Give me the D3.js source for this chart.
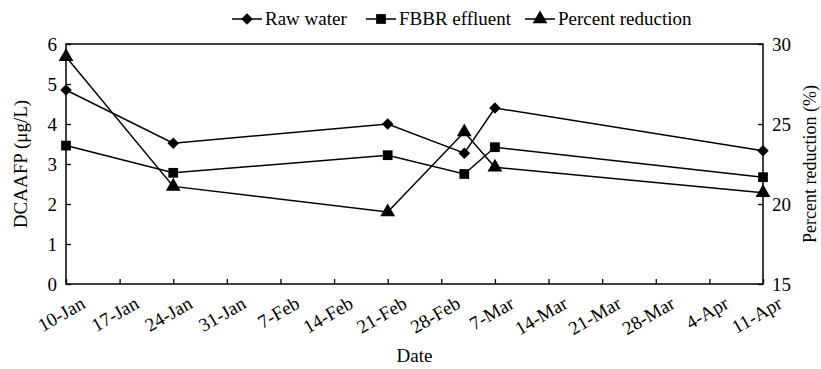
<!DOCTYPE html>
<html>
<head>
<meta charset="utf-8">
<script src="https://cdn.jsdelivr.net/npm/d3@7"></script>
<style>
  body { margin: 0; background: #fff; }
  svg text { font-family: "Liberation Serif", "Times New Roman", serif; fill: #000; }
</style>
</head>
<body>
<div id="chart"></div>
<script>
// sampling dates (2009, non-leap) and measured values
const sampleDates = ['2009-01-10', '2009-01-24', '2009-02-21', '2009-03-03', '2009-03-07', '2009-04-11'];
const rawWater = [4.85, 3.52, 4.0, 3.27, 4.4, 3.33];
const fbbrEffluent = [3.46, 2.78, 3.22, 2.75, 3.42, 2.67];
const percentReduction = [29.2, 21.1, 19.5, 24.5, 22.3, 20.7];

const leftTicks = [0, 1, 2, 3, 4, 5, 6];
const rightTicks = [15, 20, 25, 30];
const seriesNames = ['Raw water', 'FBBR effluent', 'Percent reduction'];

const width = 821, height = 369;
const m = { top: 44, right: 58, bottom: 85, left: 66 };
const pw = width - m.left - m.right;
const ph = height - m.top - m.bottom;

const parse = d3.utcParse('%Y-%m-%d');
const dates = sampleDates.map(parse);

const x = d3.scaleUtc()
    .domain([parse('2009-01-10'), parse('2009-04-11')])
    .range([0, pw]);
const y = d3.scaleLinear().domain([0, 6]).range([ph, 0]);
const y2 = d3.scaleLinear().domain([15, 30]).range([ph, 0]);

const svg = d3.select('#chart').append('svg')
    .attr('width', width)
    .attr('height', height);

const g = svg.append('g')
    .attr('transform', `translate(${m.left},${m.top})`);

// axes, ticks point inward
const xTicks = d3.utcDay.range(x.domain()[0], d3.utcDay.offset(x.domain()[1], 1), 7);
const xAxis = g.append('g')
    .attr('transform', `translate(0,${ph})`)
    .call(d3.axisBottom(x).tickValues(xTicks).tickSizeInner(-5).tickSizeOuter(0).tickFormat(d3.utcFormat('%-d-%b')));
xAxis.selectAll('text')
    .attr('text-anchor', 'end')
    .attr('dy', null)
    .attr('y', 0)
    .attr('transform', 'translate(20,23) rotate(-30)');

const yAxis = g.append('g')
    .call(d3.axisLeft(y).tickValues(leftTicks).tickSizeInner(-5).tickSizeOuter(0).tickPadding(9).tickFormat(d3.format('d')));

const y2Axis = g.append('g')
    .attr('transform', `translate(${pw},0)`)
    .call(d3.axisRight(y2).tickValues(rightTicks).tickSizeInner(-5).tickSizeOuter(0).tickPadding(9).tickFormat(d3.format('d')));

[xAxis, yAxis, y2Axis].forEach(a => {
    a.select('.domain').remove();
    a.selectAll('line').attr('stroke', '#000').attr('stroke-width', 1.3);
    a.selectAll('text').style('font-size', '19px');
});

// plot frame
g.append('rect')
    .attr('width', pw)
    .attr('height', ph)
    .attr('fill', 'none')
    .attr('stroke', '#000')
    .attr('stroke-width', 1.5);

// markers
const symbols = [
    d3.symbol().type(d3.symbolDiamond2).size(85),
    d3.symbol().type(d3.symbolSquare).size(95),
    d3.symbol().type(d3.symbolTriangle).size(95)
];

const series = [
    { vals: rawWater, sc: y, sym: symbols[0] },
    { vals: fbbrEffluent, sc: y, sym: symbols[1] },
    { vals: percentReduction, sc: y2, sym: symbols[2] }
];

series.forEach(s => {
    const line = d3.line()
        .x((d, i) => x(dates[i]))
        .y(d => s.sc(d));
    g.append('path')
        .datum(s.vals)
        .attr('d', line)
        .attr('fill', 'none')
        .attr('stroke', '#000')
        .attr('stroke-width', 1.5);
    g.selectAll(null)
        .data(s.vals)
        .enter()
        .append('path')
            .attr('d', s.sym)
            .attr('transform', (d, i) => `translate(${x(dates[i])},${s.sc(d)})`)
            .attr('fill', '#000');
});

// axis titles
svg.append('text')
    .attr('transform', `translate(27,${m.top + ph / 2}) rotate(-90)`)
    .attr('text-anchor', 'middle')
    .style('font-size', '19px')
    .text('DCAAFP (\u03bcg/L)');

svg.append('text')
    .attr('transform', `translate(816,${m.top + ph / 2}) rotate(-90)`)
    .attr('text-anchor', 'middle')
    .style('font-size', '18px')
    .text('Percent reduction (%)');

svg.append('text')
    .attr('x', m.left + pw / 2)
    .attr('y', 362)
    .attr('text-anchor', 'middle')
    .style('font-size', '19px')
    .text('Date');

// legend
const legendX = [232, 366, 525];
const legend = svg.append('g').attr('transform', 'translate(0,19)');
seriesNames.forEach((name, i) => {
    const lg = legend.append('g').attr('transform', `translate(${legendX[i]},0)`);
    lg.append('line')
        .attr('x1', 0).attr('x2', 30)
        .attr('stroke', '#000')
        .attr('stroke-width', 1.5);
    lg.append('path')
        .attr('d', symbols[i])
        .attr('transform', 'translate(15,0)')
        .attr('fill', '#000');
    lg.append('text')
        .attr('x', 33)
        .attr('dy', '0.33em')
        .style('font-size', '19px')
        .text(name);
});
</script>
</body>
</html>
